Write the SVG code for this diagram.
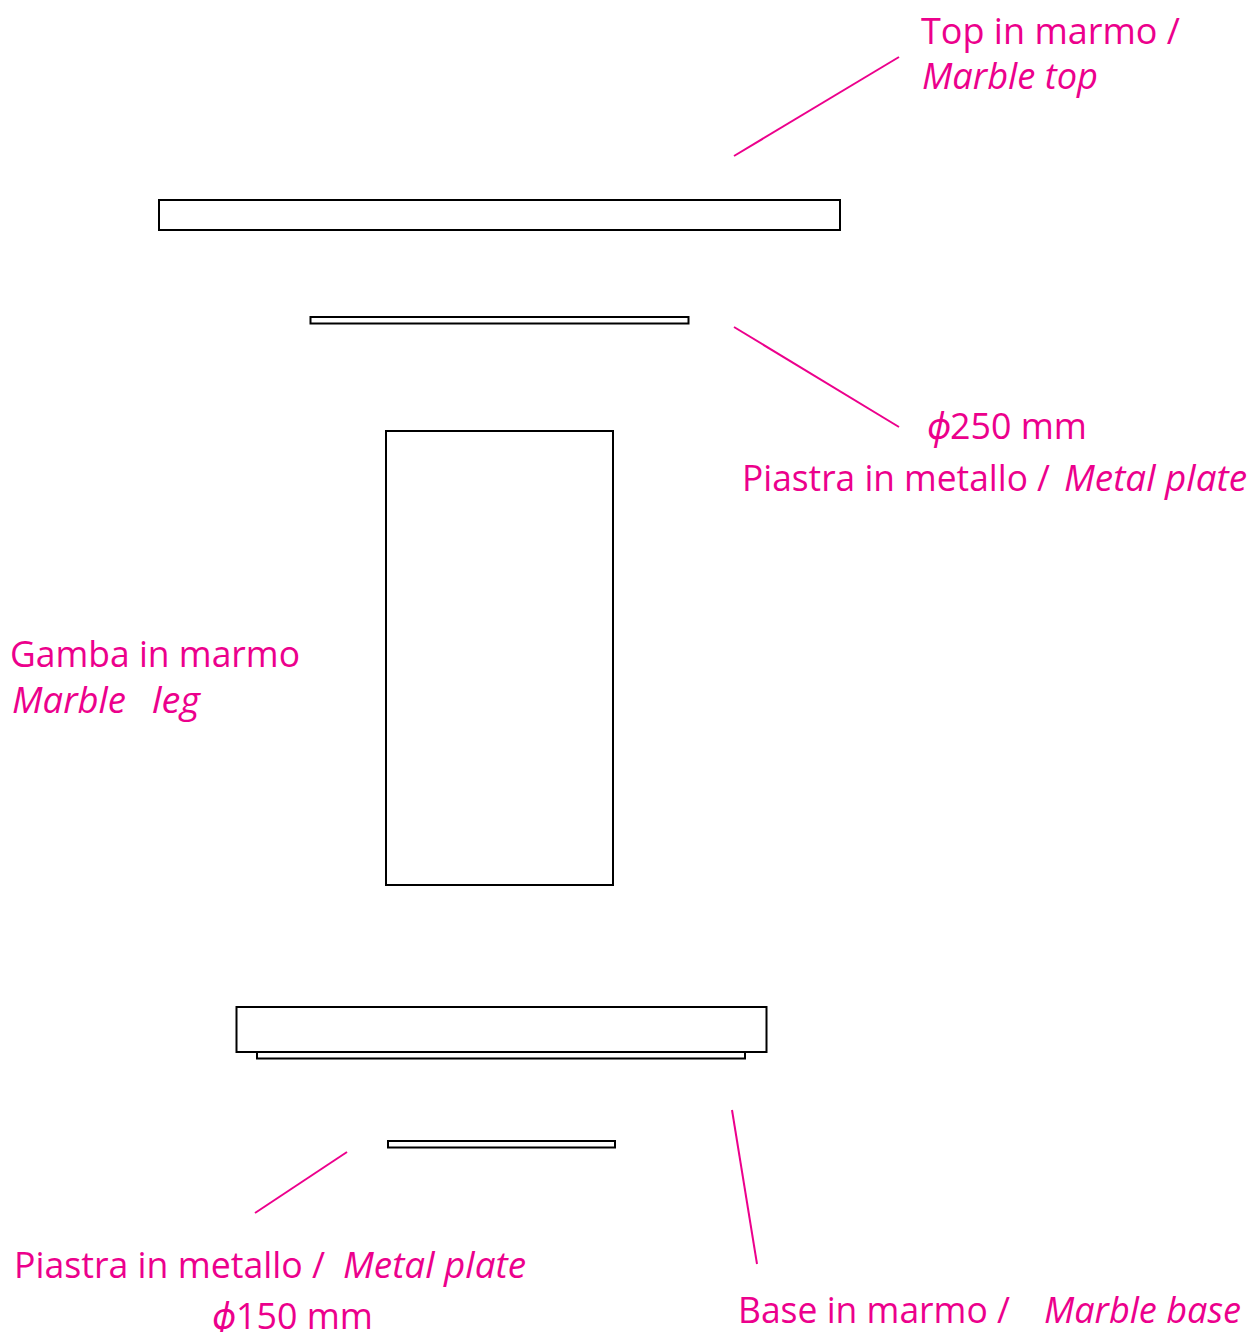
<svg xmlns="http://www.w3.org/2000/svg" width="1252" height="1332" viewBox="0 0 1252 1332">
<style>
.p{fill:#fff;stroke:#000;stroke-width:2}
.c{stroke:#ec008c;stroke-width:2;fill:none}
text{font-family:"Open Sans","Noto Sans",sans-serif;font-size:35.8px;fill:#ec008c}
.i{font-style:italic;font-size:37px}
</style>
<rect width="1252" height="1332" fill="#fff"/>
<g id="marble-top"><rect class="p" x="159" y="200" width="681" height="30"/></g>
<g id="upper-plate"><rect class="p" x="310.500" y="317" width="378" height="6.500"/></g>
<g id="leg"><rect class="p" x="386" y="431" width="227" height="454"/></g>
<g id="base-plate"><rect class="p" x="257" y="1052" width="488" height="6.500"/></g>
<g id="base"><rect class="p" x="236.500" y="1007" width="530" height="45"/></g>
<g id="lower-plate"><rect class="p" x="388" y="1141" width="227" height="6.500"/></g>
<g id="connectors">
<line class="c" x1="899" y1="57" x2="734" y2="156"/>
<line class="c" x1="734" y1="327" x2="899" y2="427"/>
<line class="c" x1="347" y1="1152" x2="255" y2="1213"/>
<line class="c" x1="732" y1="1110" x2="757" y2="1264"/>
</g>
<g id="labels">
<text x="921" y="44" textLength="259" lengthAdjust="spacingAndGlyphs">Top in marmo /</text>
<text x="922" y="89" class="i" textLength="176" lengthAdjust="spacingAndGlyphs">Marble top</text>
<text x="927" y="439"><tspan font-style="italic">ϕ</tspan><tspan x="950">250 mm</tspan></text>
<text x="742" y="491" textLength="308" lengthAdjust="spacingAndGlyphs">Piastra in metallo /</text>
<text x="1064" y="491" class="i" textLength="183" lengthAdjust="spacingAndGlyphs">Metal plate</text>
<text x="10" y="667" textLength="290" lengthAdjust="spacingAndGlyphs">Gamba in marmo</text>
<text x="12" y="713" class="i" textLength="114" lengthAdjust="spacingAndGlyphs">Marble</text>
<text x="152" y="713" class="i" textLength="48" lengthAdjust="spacingAndGlyphs">leg</text>
<text x="14" y="1278" textLength="311" lengthAdjust="spacingAndGlyphs">Piastra in metallo /</text>
<text x="343" y="1278" class="i" textLength="183" lengthAdjust="spacingAndGlyphs">Metal plate</text>
<text x="212" y="1329"><tspan font-style="italic">ϕ</tspan><tspan x="236">150 mm</tspan></text>
<text x="738" y="1323" textLength="272" lengthAdjust="spacingAndGlyphs">Base in marmo /</text>
<text x="1044" y="1323" class="i" textLength="197" lengthAdjust="spacingAndGlyphs">Marble base</text>
</g>
</svg>
